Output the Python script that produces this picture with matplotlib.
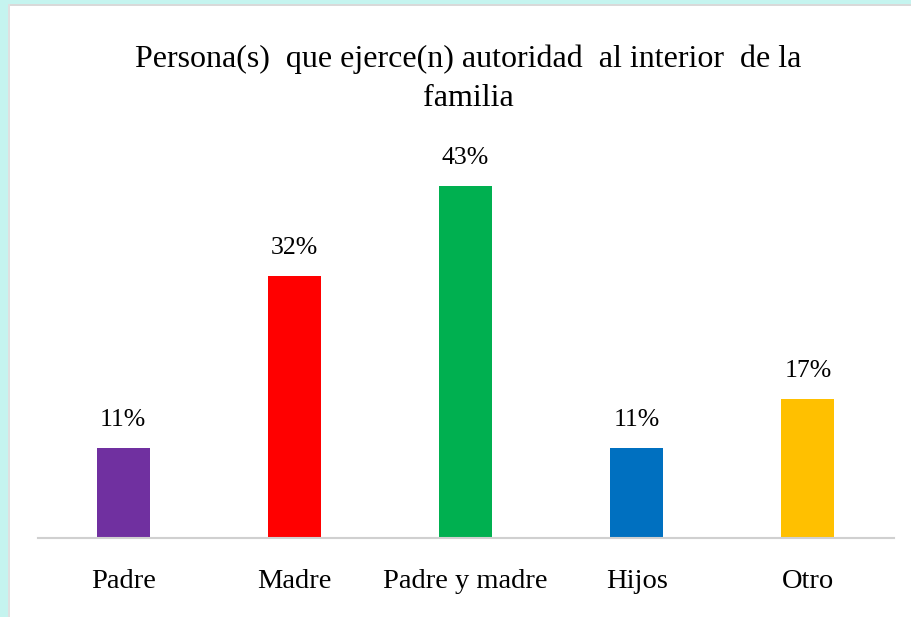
import matplotlib
matplotlib.use("Agg")
import matplotlib.pyplot as plt
from matplotlib.patches import Rectangle

categories = ["Padre", "Madre", "Padre y madre", "Hijos", "Otro"]
values = [11, 32, 43, 11, 17]
labels = ["11%", "32%", "43%", "11%", "17%"]
colors = ["#7030a0", "#ff0000", "#00b050", "#0070c0", "#ffc000"]
title = "Persona(s)  que ejerce(n) autoridad  al interior  de la\nfamilia"

W, H = 911, 617
fig = plt.figure(figsize=(W / 100, H / 100), dpi=100)
fig.patch.set_facecolor("white")

# cyan frame at top and left with thin gray inner line
fig.patches.append(Rectangle((0, 1 - 4 / H), 1, 4 / H, transform=fig.transFigure,
                             facecolor="#c5f4ef", edgecolor="none", zorder=0))
fig.patches.append(Rectangle((0, 1 - 6 / H), 1, 2 / H, transform=fig.transFigure,
                             facecolor="#d9d9d9", edgecolor="none", zorder=0))
fig.patches.append(Rectangle((0, 0), 8 / W, 1, transform=fig.transFigure,
                             facecolor="#c5f4ef", edgecolor="none", zorder=0))
fig.patches.append(Rectangle((8 / W, 0), 2 / W, 1 - 4 / H, transform=fig.transFigure,
                             facecolor="#e0e0e0", edgecolor="none", zorder=0))

left, right = 37.5 / W, 893.5 / W
bottom = (H - 538) / H
top_px = 538 - 50 * 8.19
ax = fig.add_axes([left, bottom, right - left, (538 - top_px) / H])
ax.set_facecolor("none")

x = list(range(len(categories)))
bars = ax.bar(x, values, width=0.31, color=colors, zorder=2)
ax.set_xlim(-0.5, len(categories) - 0.5)
ax.set_ylim(0, 50)

font = "Liberation Serif"
for xi, v, lab in zip(x, values, labels):
    ax.annotate(lab, (xi, v), xytext=(0, 12), textcoords="offset points",
                ha="center", va="bottom", fontsize=18.5, family=font, color="black")

ax.set_xticks(x)
ax.set_xticklabels(categories, fontsize=20.5, family=font)
ax.tick_params(axis="x", length=0, pad=22)
ax.set_yticks([])
for s in ["left", "right", "top"]:
    ax.spines[s].set_visible(False)
ax.spines["bottom"].set_color("#d0d0d0")
ax.spines["bottom"].set_linewidth(1.5)

fig.text(468 / W, 1 - 79 / H, title, ha="center", va="center", fontsize=23,
         family=font, linespacing=1.45)

fig.savefig("out.png", dpi=100)
